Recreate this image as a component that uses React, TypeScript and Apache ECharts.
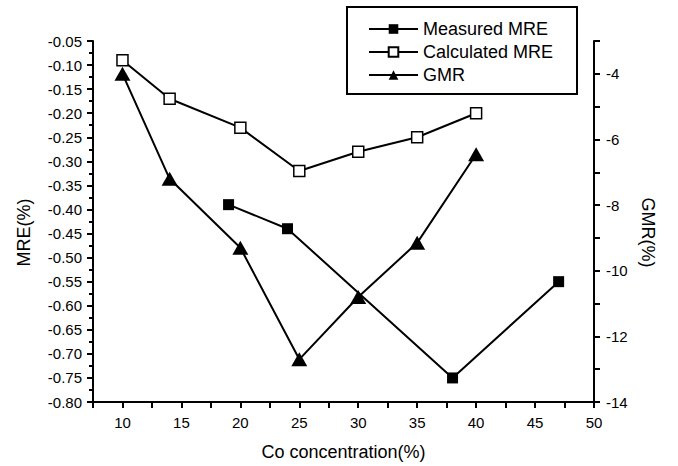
import React, { useEffect, useRef } from "react";
import * as echarts from "echarts";

const concentrationMeasured = [19, 24, 38, 47];
const measuredMRE = [-0.39, -0.44, -0.75, -0.55];
const concentrationCalc = [10, 14, 20, 25, 30, 35, 40];
const calculatedMRE = [-0.09, -0.17, -0.23, -0.32, -0.28, -0.25, -0.2];
const gmr = [-4, -7.2, -9.3, -12.7, -10.8, -9.15, -6.45];

const FONT = "Liberation Sans, Arial, sans-serif";

export default function App() {
  const ref = useRef<HTMLDivElement>(null);
  useEffect(() => {
    if (!ref.current) return;
    const chart = echarts.init(ref.current, null, { renderer: "svg" });
    const axisLine = { show: true, lineStyle: { color: "#000", width: 2 } };
    const axisTick = { show: true, inside: false, length: 6, lineStyle: { color: "#000", width: 2 } };
    const labelStyle = { color: "#000", fontFamily: FONT, fontSize: 15 };
    const nameStyle = { color: "#000", fontFamily: FONT, fontSize: 18 };
    chart.setOption({
      animation: false,
      backgroundColor: "#fff",
      grid: { left: 93, right: 84, top: 41, bottom: 60, containLabel: false },
      graphic: [
        {
          type: "rect",
          z: 1,
          shape: { x: 347, y: 7, width: 230, height: 87 },
          style: { fill: "#fff", stroke: "#000", lineWidth: 2 },
        },
      ],
      legend: {
        orient: "vertical",
        left: 347,
        top: 7,
        padding: [13, 20, 12, 21],
        itemWidth: 49,
        itemHeight: 12,
        itemGap: 5,
        z: 5,
        textStyle: { color: "#000", fontFamily: FONT, fontSize: 18 },
        data: ["Measured MRE", "Calculated MRE", "GMR"],
      },
      xAxis: {
        type: "value",
        min: 7.5,
        max: 50,
        interval: 2.5,
        name: "Co concentration(%)",
        nameLocation: "middle",
        nameGap: 41,
        nameTextStyle: nameStyle,
        axisLine,
        axisTick,
        axisLabel: {
          ...labelStyle,
          margin: 13,
          formatter: (v: number) => (Math.abs(v % 5) < 1e-9 ? String(v) : ""),
        },
        splitLine: { show: false },
      },
      yAxis: [
        {
          type: "value",
          position: "left",
          min: -0.8,
          max: -0.05,
          interval: 0.05,
          name: "MRE(%)",
          nameLocation: "middle",
          nameGap: 60,
          nameRotate: 90,
          nameTextStyle: { ...nameStyle, padding: [0, 22, 0, 0] },
          axisLine,
          axisTick,
          minorTick: { show: true, splitNumber: 2, length: 4, lineStyle: { color: "#000", width: 2 } },
          axisLabel: { ...labelStyle, margin: 11, formatter: (v: number) => v.toFixed(2) },
          splitLine: { show: false },
        },
        {
          type: "value",
          position: "right",
          min: -14,
          max: -3,
          interval: 1,
          name: "GMR(%)",
          nameLocation: "middle",
          nameGap: 45,
          nameRotate: -90,
          nameTextStyle: { ...nameStyle, padding: [0, 0, 0, 22] },
          axisLine,
          axisTick,
          axisLabel: {
            ...labelStyle,
            margin: 12,
            formatter: (v: number) => (Math.abs(v % 2) < 1e-9 ? String(v) : ""),
          },
          splitLine: { show: false },
        },
      ],
      series: [
        {
          name: "Measured MRE",
          type: "line",
          yAxisIndex: 0,
          symbol: "rect",
          symbolSize: 11,
          lineStyle: { color: "#000", width: 2 },
          itemStyle: { color: "#000" },
          data: concentrationMeasured.map((x, i) => [x, measuredMRE[i]]),
        },
        {
          name: "Calculated MRE",
          type: "line",
          yAxisIndex: 0,
          symbol: "rect",
          symbolSize: 11,
          lineStyle: { color: "#000", width: 2 },
          itemStyle: { color: "#fff", borderColor: "#000", borderWidth: 1.5 },
          data: concentrationCalc.map((x, i) => [x, calculatedMRE[i]]),
        },
        {
          name: "GMR",
          type: "line",
          yAxisIndex: 1,
          symbol: "triangle",
          symbolSize: [16, 14],
          lineStyle: { color: "#000", width: 2 },
          itemStyle: { color: "#000" },
          data: concentrationCalc.map((x, i) => [x, gmr[i]]),
        },
      ],
    });
    return () => chart.dispose();
  }, []);
  return (
    <div
      ref={ref}
      style={{ position: "fixed", left: 0, top: 0, width: 678, height: 466, background: "#fff" }}
    />
  );
}
